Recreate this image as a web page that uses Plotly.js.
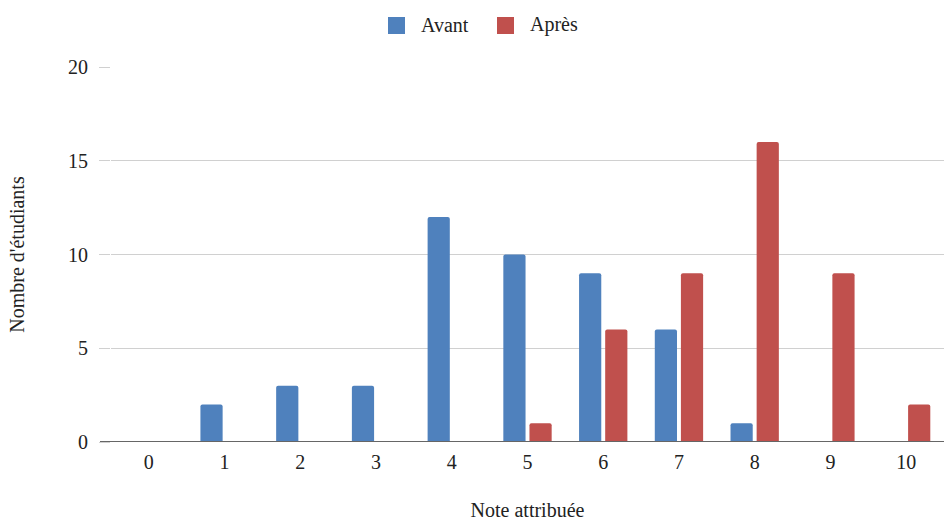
<!DOCTYPE html>
<html>
<head>
<meta charset="utf-8">
<script src="https://cdn.plot.ly/plotly-3.0.1.min.js"></script>
<style>html,body{margin:0;padding:0;background:#fff;}#chart{width:945px;height:521px;}</style>
</head>
<body>
<div id="chart"></div>
<script>
const categories = ["0","1","2","3","4","5","6","7","8","9","10"];
const avant = [0, 2, 3, 3, 12, 10, 9, 6, 1, 0, 0];
const apres = [0, 0, 0, 0, 0, 1, 6, 9, 16, 9, 2];
const seriesNames = ["Avant", "Après"];
const seriesColors = ["#4f81bd", "#c0504d"];
const yTicks = [0, 5, 10, 15, 20];

const FONT = "Liberation Serif, Times New Roman, serif";
const FS = 20;
const TXT = "#222";

const traces = [
  {type: "bar", name: seriesNames[0], x: categories, y: avant, marker: {color: seriesColors[0]}},
  {type: "bar", name: seriesNames[1], x: categories, y: apres, marker: {color: seriesColors[1]}}
];

// custom legend (pixel-placed, converted to paper coords of the plot area)
const PL = 111, PW = 833, PT = 67, PH = 375;
const px = v => (v - PL) / PW;
const py = v => (PT + PH - v) / PH;
const legendX = [388, 497];
const legendShapes = seriesNames.map((n, i) => ({
  type: "rect", xref: "paper", yref: "paper",
  x0: px(legendX[i]), x1: px(legendX[i] + 17), y0: py(34), y1: py(17),
  fillcolor: seriesColors[i], line: {width: 0}
}));
const legendAnn = seriesNames.map((n, i) => ({
  text: n, xref: "paper", yref: "paper", x: px(legendX[i] + 31), y: py(25),
  xanchor: "left", yanchor: "middle", showarrow: false,
  font: {family: FONT, size: FS, color: TXT}
}));

const layout = {
  width: 945, height: 521,
  margin: {l: PL, r: 945 - PL - PW, t: PT, b: 521 - PT - PH},
  paper_bgcolor: "#fff", plot_bgcolor: "#fff",
  font: {family: FONT, size: FS, color: TXT},
  barmode: "group", bargap: 0.31, bargroupgap: 0.15, barcornerradius: 2,
  showlegend: false,
  xaxis: {
    type: "category", range: [-0.5, 10.5],
    showgrid: false, zeroline: false, showline: false, ticks: "",
    ticklabelstandoff: 6,
    tickfont: {family: FONT, size: FS, color: TXT},
    title: {text: "Note attribuée", font: {family: FONT, size: FS, color: TXT}, standoff: 36}
  },
  yaxis: {
    range: [0, 20], tickvals: yTicks, ticktext: yTicks.map(String),
    showgrid: true, gridcolor: "#d0d0d0", gridwidth: 1,
    zeroline: false,
    ticks: "outside", ticklen: 11, tickcolor: "#d0d0d0", tickwidth: 1,
    ticklabelstandoff: 7,
    tickfont: {family: FONT, size: FS, color: TXT},
    title: {text: "Nombre d'étudiants", font: {family: FONT, size: FS, color: TXT}, standoff: 38}
  },
  shapes: [
    {type: "line", xref: "paper", yref: "y", x0: -11/PW, x1: 1, y0: 0, y1: 0,
     line: {color: "#666", width: 2}, layer: "above"}
  ].concat(legendShapes),
  annotations: legendAnn
};

Plotly.newPlot("chart", traces, layout, {displayModeBar: false, staticPlot: true});
</script>
</body>
</html>
